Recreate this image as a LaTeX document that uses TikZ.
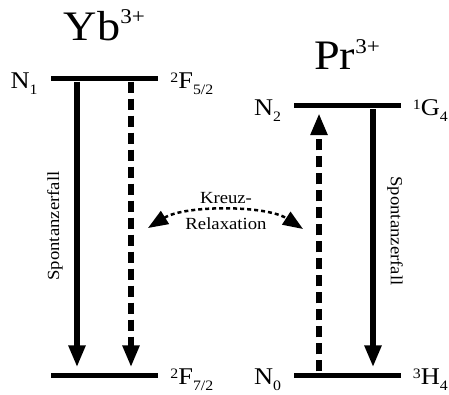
\documentclass[tikz,border=0pt]{standalone}
\usepackage{fontspec}
\setmainfont{Liberation Serif}[FakeStretch=1.1]
\usepackage{graphicx}
\usepackage{tikz}
\usetikzlibrary{arrows.meta,positioning}
\newcommand{\hoch}[1]{\raisebox{0.25em}{\scalebox{0.6}{#1}}}
\newcommand{\tief}[1]{\raisebox{-0.25em}{\scalebox{0.6}{#1}}}
\newcommand{\ion}[2]{#1\raisebox{0.4em}{\scalebox{0.5}{#2}}}

\begin{document}
\begin{tikzpicture}[x=1pt,y=-1pt,
  niveau/.style={fill=black,inner sep=0pt,minimum width=107pt,minimum height=5pt},
  pfeil/.style={line width=5.5pt,-{Triangle[length=22pt,width=16pt]},shorten >=5pt,shorten <=1pt},
  gestr/.style={pfeil,dash pattern=on 11pt off 6pt},
  term/.style={font=\fontsize{24}{24}\selectfont,inner sep=0pt},
  titel/.style={font=\fontsize{42}{42}\selectfont,inner sep=0pt,anchor=base},
  klein/.style={font=\fontsize{17}{26}\selectfont,inner sep=0pt,align=center}]
  \useasboundingbox (0,0) rectangle (449,394);
  % Yb levels
  \node[niveau] (yb1) at (104.5,78) {};
  \node[niveau] (yb0) at (104.5,375) {};
  % Pr levels
  \node[niveau] (pr2) at (347,105.5) {};
  \node[niveau] (pr0) at (347,375) {};
  % ions
  \node[titel] (yb) at ([yshift=35pt]yb1.north) {\ion{Yb}{3+}};
  \node[titel] (pr) at ([yshift=33pt]pr2.north) {\ion{Pr}{3+}};
  % term labels
  \node[term,anchor=base east] (n1) at ([xshift=-13pt,yshift=-10pt]yb1.west) {N\tief{1}};
  \node[term,anchor=base west] (f52) at ([xshift=12pt,yshift=-10pt]yb1.east) {\hoch{2}F\tief{5/2}};
  \node[term,anchor=base west] (f72) at ([xshift=12pt,yshift=-9.5pt]yb0.east) {\hoch{2}F\tief{7/2}};
  \node[term,anchor=base east] (n2) at ([xshift=-12pt,yshift=-9.5pt]pr2.west) {N\tief{2}};
  \node[term,anchor=base west] (g4) at ([xshift=12pt,yshift=-9.5pt]pr2.east) {\hoch{1}G\tief{4}};
  \node[term,anchor=base east] (n0) at ([xshift=-12pt,yshift=-9.5pt]pr0.west) {N\tief{0}};
  \node[term,anchor=base west] (h4) at ([xshift=12pt,yshift=-9.5pt]pr0.east) {\hoch{3}H\tief{4}};
  % transitions
  \draw[pfeil] ([xshift=-27.5pt]yb1.south) -- ([xshift=-27.5pt]yb0.north);
  \draw[gestr] ([xshift=26.5pt]yb1.south) -- ([xshift=26.5pt]yb0.north);
  \draw[gestr] ([xshift=-28pt]pr0.north) -- ([xshift=-28pt]pr2.south);
  \draw[pfeil] ([xshift=26pt]pr2.south) -- ([xshift=26pt]pr0.north);
  \node[klein,rotate=90] (sz1) at (55,226) {Spontanzerfall};
  \node[klein,rotate=-90] (sz2) at (395,231) {Spontanzerfall};
  % cross relaxation
  \node[klein] (kr) at (226,211) {Kreuz-\\Relaxation};
  \coordinate (kra) at (148,228);
  \coordinate (krb) at (303,229);
  \draw[line width=2.5pt,dash pattern=on 4pt off 3pt,
    {Triangle[length=20pt,width=15pt]}-{Triangle[length=20pt,width=15pt]}]
    (kra) .. controls (185,205) and (266,205) .. (krb);
\end{tikzpicture}
\end{document}
